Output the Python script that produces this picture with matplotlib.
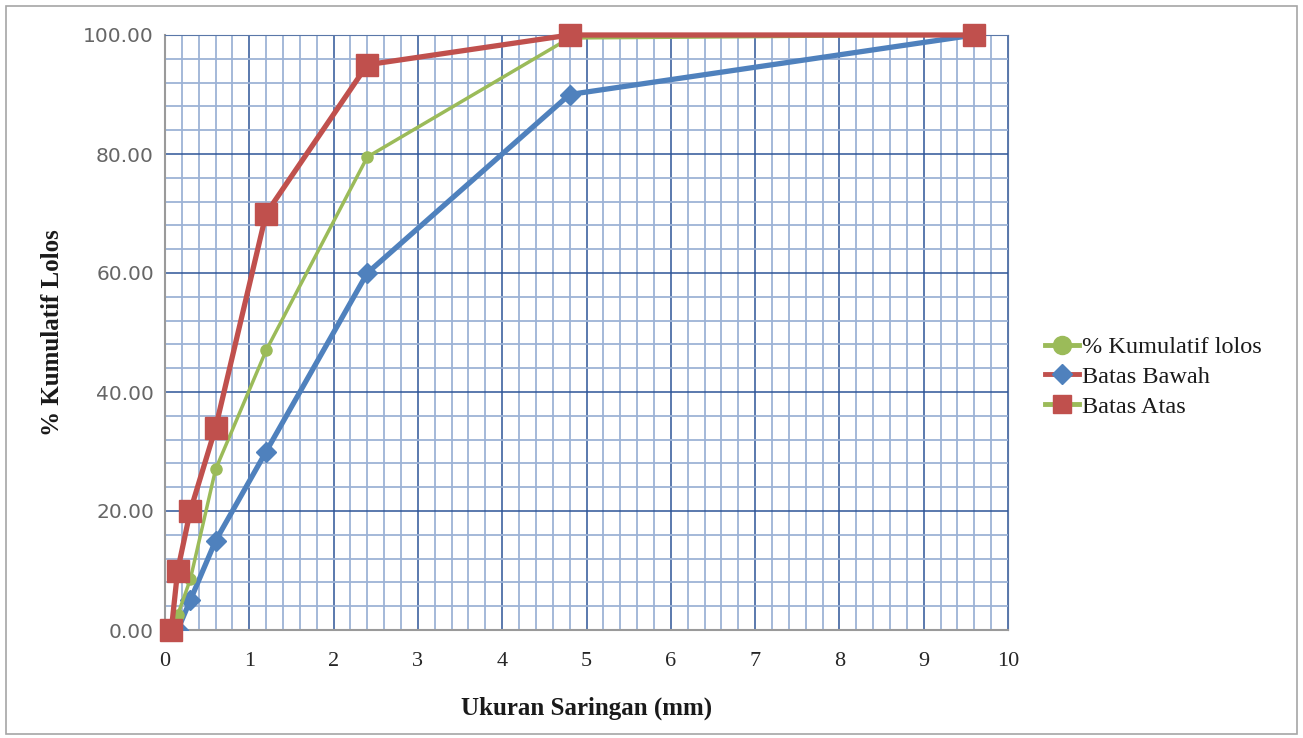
import matplotlib
matplotlib.use("Agg")
import matplotlib.pyplot as plt
from matplotlib.lines import Line2D
from matplotlib.ticker import MultipleLocator, FormatStrFormatter
from matplotlib.patches import Rectangle

# Data
sieve_mm = [9.6, 4.8, 2.4, 1.2, 0.6, 0.3, 0.15, 0.075]
kumulatif_lolos = [100.0, 99.5, 79.5, 47.0, 27.0, 8.5, 2.5, 0.0]
batas_bawah = [100, 90, 60, 30, 15, 5, 0, 0]
batas_atas = [100, 100, 95, 70, 34, 20, 10, 0]

x_ticks = list(range(0, 11))
y_ticks = [0, 20, 40, 60, 80, 100]

GREEN = "#9BBB59"
BLUE = "#4F81BD"
RED = "#C0504D"

plt.rcParams["font.family"] = ["Liberation Serif", "DejaVu Serif"]

fig = plt.figure(figsize=(13.03, 7.38), dpi=100)
ax = fig.add_axes([165/1303, 1-630/738, 843/1303, 595/738])

# chart border
fig.patches.append(Rectangle((6/1303, 4/738), 1-12/1303, 1-10/738, transform=fig.transFigure,
                             fill=False, edgecolor="#A6A6A6", linewidth=1.2))

ax.set_xlim(0, 10)
ax.set_ylim(0, 100)
ax.xaxis.set_minor_locator(MultipleLocator(0.2))
ax.yaxis.set_minor_locator(MultipleLocator(4))
ax.set_xticks(x_ticks)
ax.set_yticks(y_ticks)
ax.yaxis.set_major_formatter(FormatStrFormatter("%.2f"))

ax.grid(which="minor", color="#9DB3D6", linewidth=1.3, zorder=0)
ax.grid(which="major", color="#2E5597", linewidth=1.1, zorder=0)
ax.set_axisbelow(True)

for s in ["top", "right"]:
    ax.spines[s].set_color("#5A77A8")
for s in ["left", "bottom"]:
    ax.spines[s].set_color("#9A9A9A")
    ax.spines[s].set_linewidth(1.5)

ax.tick_params(which="both", length=0)
ax.tick_params(axis="x", labelsize=16, colors="#262626", pad=16)
ax.tick_params(axis="y", pad=8, colors="#666666")
for lab in ax.get_yticklabels():
    lab.set_fontfamily("DejaVu Sans")
    lab.set_fontsize(14.5)

ax.plot(sieve_mm, batas_bawah, color=BLUE, linewidth=3.8, marker="D", markersize=10,
        markerfacecolor=BLUE, markeredgecolor=BLUE, zorder=3)
ax.plot(sieve_mm, kumulatif_lolos, color=GREEN, linewidth=2.5, marker="o", markersize=8,
        markerfacecolor=GREEN, markeredgecolor=GREEN, zorder=4)
ax.plot(sieve_mm, batas_atas, color=RED, linewidth=3.8, marker="s", markersize=16.5,
        markerfacecolor=RED, markeredgecolor=RED, zorder=5, clip_on=False)

ax.set_xlabel("Ukuran Saringan (mm)", fontsize=18, fontweight="bold", color="#1a1a1a", labelpad=18)
ax.set_ylabel("% Kumulatif Lolos", fontsize=18, fontweight="bold", color="#1a1a1a", labelpad=14)

handles = [
    Line2D([], [], color=GREEN, linewidth=3.5, marker="o", markersize=13,
           markerfacecolor=GREEN, markeredgecolor=GREEN),
    Line2D([], [], color=RED, linewidth=3.5, marker="D", markersize=10,
           markerfacecolor=BLUE, markeredgecolor=BLUE),
    Line2D([], [], color=GREEN, linewidth=3.5, marker="s", markersize=13,
           markerfacecolor=RED, markeredgecolor=RED),
]
labels = ["% Kumulatif lolos", "Batas Bawah", "Batas Atas"]
fig.legend(handles, labels, loc="center left", bbox_to_anchor=(1033/1303, 1-377/738),
           frameon=False, fontsize=17.5, handlelength=1.4, handletextpad=0.1,
           labelspacing=0.32, borderpad=0, labelcolor="#1a1a1a")

fig.savefig("out.png", dpi=100)
